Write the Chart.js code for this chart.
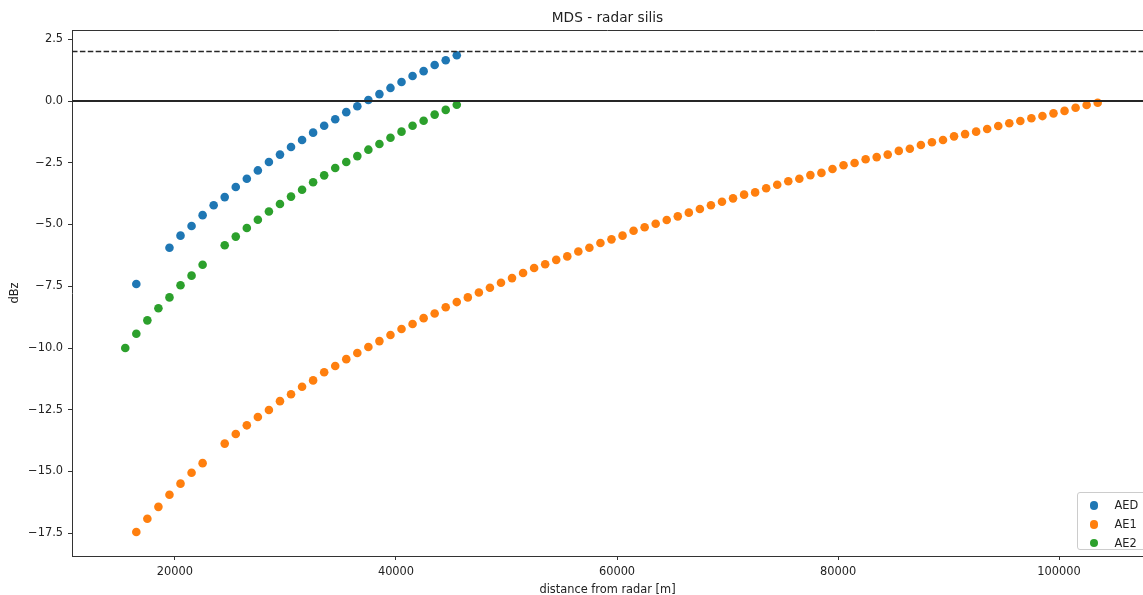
<!DOCTYPE html>
<html>
<head>
<meta charset="utf-8">
<script src="https://cdn.jsdelivr.net/npm/chart.js@4"></script>
<style>
html,body{margin:0;padding:0;background:#fff;overflow:hidden;}
#wrap{position:relative;width:1143px;height:595px;}
#c{display:block;}
#legend{position:absolute;box-sizing:border-box;border:1px solid #cccccc;border-radius:3px;background:rgba(255,255,255,0.8);font-family:'DejaVu Sans',sans-serif;font-size:11.4px;color:#222;padding:3px 0 3px 0;}
#legend .row{position:relative;height:18.7px;line-height:18.7px;white-space:nowrap;}
#legend .dot{position:absolute;left:12.5px;top:5.2px;width:8.4px;height:8.4px;border-radius:50%;}
#legend .lab{position:absolute;left:37px;top:0;}
</style>
</head>
<body>
<div id="wrap">
<canvas id="c" width="1143" height="595"></canvas>
<div id="legend"></div>
</div>
<script>
// ---- data ----
const chartTitle = 'MDS - radar silis';
const xAxisTitle = 'distance from radar [m]';
const yAxisTitle = 'dBz';
const seriesNames = ['AED', 'AE1', 'AE2'];

const aedDistance = [16500, 19500, 20500, 21500, 22500, 23500, 24500, 25500, 26500, 27500,
  28500, 29500, 30500, 31500, 32500, 33500, 34500, 35500, 36500, 37500,
  38500, 39500, 40500, 41500, 42500, 43500, 44500, 45500];
const aedDbz = [-7.41, -5.94, -5.45, -5.06, -4.62, -4.22, -3.89, -3.48, -3.15, -2.81,
  -2.47, -2.17, -1.86, -1.58, -1.28, -1.00, -0.74, -0.45, -0.21, 0.04,
  0.28, 0.53, 0.77, 1.01, 1.21, 1.46, 1.65, 1.85];

const ae1Distance = [16500, 17500, 18500, 19500, 20500, 21500, 22500,
  24500, 25500, 26500, 27500, 28500, 29500, 30500, 31500, 32500, 33500, 34500,
  35500, 36500, 37500, 38500, 39500, 40500, 41500, 42500, 43500, 44500,
  45500, 46500, 47500, 48500, 49500, 50500, 51500, 52500, 53500, 54500,
  55500, 56500, 57500, 58500, 59500, 60500, 61500, 62500, 63500, 64500,
  65500, 66500, 67500, 68500, 69500, 70500, 71500, 72500, 73500, 74500,
  75500, 76500, 77500, 78500, 79500, 80500, 81500, 82500, 83500, 84500,
  85500, 86500, 87500, 88500, 89500, 90500, 91500, 92500, 93500, 94500,
  95500, 96500, 97500, 98500, 99500, 100500, 101500, 102500, 103500];
const ae1Dbz = [-17.45, -16.91, -16.43, -15.94, -15.49, -15.05, -14.66,
  -13.87, -13.48, -13.13, -12.79, -12.51, -12.15, -11.87, -11.57, -11.31, -10.98, -10.73,
  -10.45, -10.20, -9.96, -9.72, -9.47, -9.23, -9.03, -8.79, -8.60, -8.35,
  -8.14, -7.95, -7.75, -7.56, -7.36, -7.17, -6.96, -6.76, -6.61, -6.43,
  -6.29, -6.09, -5.94, -5.75, -5.60, -5.45, -5.25, -5.11, -4.97, -4.82,
  -4.67, -4.52, -4.37, -4.22, -4.08, -3.94, -3.79, -3.70, -3.53, -3.39,
  -3.25, -3.15, -3.00, -2.91, -2.75, -2.60, -2.51, -2.36, -2.27, -2.17,
  -2.02, -1.93, -1.78, -1.67, -1.58, -1.43, -1.34, -1.24, -1.13, -1.01,
  -0.90, -0.81, -0.70, -0.61, -0.50, -0.40, -0.27, -0.16, -0.07];

const ae2Distance = [15500, 16500, 17500, 18500, 19500, 20500, 21500, 22500,
  24500, 25500, 26500, 27500, 28500, 29500, 30500, 31500, 32500, 33500,
  34500, 35500, 36500, 37500, 38500, 39500, 40500, 41500, 42500, 43500,
  44500, 45500];
const ae2Dbz = [-10.00, -9.42, -8.88, -8.39, -7.95, -7.46, -7.07, -6.63,
  -5.84, -5.49, -5.14, -4.81, -4.47, -4.17, -3.87, -3.59, -3.29, -3.01,
  -2.71, -2.47, -2.23, -1.97, -1.74, -1.49, -1.24, -1.00, -0.80, -0.55,
  -0.36, -0.15];

const xTickValues = [20000, 40000, 60000, 80000, 100000];
const xTickLabels = ['20000', '40000', '60000', '80000', '100000'];
const yTickValues = [2.5, 0.0, -2.5, -5.0, -7.5, -10.0, -12.5, -15.0, -17.5];
const yTickLabels = ['2.5', '0.0', '\u22122.5', '\u22125.0', '\u22127.5', '\u221210.0', '\u221212.5', '\u221215.0', '\u221217.5'];

const referenceLevels = [0, 2];   // horizontal reference lines (dBz)

// ---- styles ----
const seriesColors = ['#1f77b4', '#ff7f0e', '#2ca02c'];
const textColor = '#222222';
const axisColor = '#333333';
const FONT = "'DejaVu Sans', sans-serif";

function pts(xs, ys) { return xs.map((x, i) => ({ x: x, y: ys[i] })); }

const seriesData = [pts(aedDistance, aedDbz), pts(ae1Distance, ae1Dbz), pts(ae2Distance, ae2Dbz)];

const refLinePlugin = {
  id: 'refLines',
  afterDatasetsDraw(chart) {
    const ctx = chart.ctx, a = chart.chartArea, y = chart.scales.y;
    ctx.save();
    // top spine
    ctx.strokeStyle = axisColor; ctx.lineWidth = 1; ctx.setLineDash([]);
    ctx.beginPath(); ctx.moveTo(a.left, a.top + 0.5); ctx.lineTo(a.right, a.top + 0.5); ctx.stroke();
    referenceLevels.forEach((lvl, i) => {
      const py = y.getPixelForValue(lvl);
      ctx.beginPath();
      if (i === 0) { ctx.strokeStyle = '#262626'; ctx.lineWidth = 2; ctx.setLineDash([]); }
      else { ctx.strokeStyle = '#262626'; ctx.lineWidth = 1.5; ctx.setLineDash([5.5, 2.4]); }
      ctx.moveTo(a.left, py); ctx.lineTo(a.right, py); ctx.stroke();
    });
    ctx.restore();
  }
};

const legendPlugin = {
  id: 'htmlLegend',
  afterRender(chart) {
    const el = document.getElementById('legend');
    if (!el.dataset.built) {
      el.innerHTML = chart.data.datasets.map((d) =>
        '<div class="row"><span class="dot" style="background:' + d.backgroundColor + '"></span><span class="lab">' + d.label + '</span></div>'
      ).join('');
      el.dataset.built = '1';
    }
    const a = chart.chartArea;
    el.style.left = (a.right - 66.5) + 'px';
    el.style.top = (a.bottom - 63.7) + 'px';
    el.style.width = '80px';
    el.style.height = '58px';
  }
};

new Chart(document.getElementById('c'), {
  type: 'scatter',
  data: {
    datasets: seriesNames.map((name, i) => ({
      label: name,
      data: seriesData[i],
      backgroundColor: seriesColors[i],
      borderColor: seriesColors[i],
      borderWidth: 0,
      pointRadius: 4.3,
      pointHoverRadius: 4.3,
      order: seriesNames.length - i
    }))
  },
  options: {
    responsive: false,
    animation: false,
    devicePixelRatio: 1,
    layout: { padding: 0, autoPadding: false },
    plugins: {
      legend: { display: false },
      tooltip: { enabled: false },
      title: {
        display: true,
        text: chartTitle,
        fullSize: false,
        color: textColor,
        font: { family: FONT, size: 13.7, weight: 'normal' },
        padding: { top: 10, bottom: 3.56 }
      }
    },
    scales: {
      x: {
        type: 'linear',
        min: 10680,
        max: 107600,
        afterFit: (s) => { s.height = 39; },
        afterBuildTicks: (s) => { s.ticks = xTickValues.map(v => ({ value: v })); },
        ticks: {
          color: textColor,
          font: { family: FONT, size: 11.4 },
          padding: 5.5,
          maxRotation: 0,
          autoSkip: false,
          callback: (v, i) => xTickLabels[i]
        },
        grid: { drawOnChartArea: false, drawTicks: true, tickLength: 4, color: axisColor, tickColor: axisColor },
        border: { display: true, color: axisColor, width: 1 },
        title: { display: true, text: xAxisTitle, color: textColor, font: { family: FONT, size: 11.4 }, padding: { top: 0, bottom: -1.5 } }
      },
      y: {
        type: 'linear',
        min: -18.42,
        max: 2.875,
        afterFit: (s) => { s.width = 72; },
        afterBuildTicks: (s) => { s.ticks = yTickValues.map(v => ({ value: v })); },
        ticks: {
          color: textColor,
          font: { family: FONT, size: 11.4 },
          padding: 5,
          autoSkip: false,
          callback: (v, i) => yTickLabels[i]
        },
        grid: { drawOnChartArea: false, drawTicks: true, tickLength: 4, color: axisColor, tickColor: axisColor },
        border: { display: true, color: axisColor, width: 1 },
        title: { display: true, text: yAxisTitle, color: textColor, font: { family: FONT, size: 11.4 }, padding: { top: 8, bottom: 0 } }
      }
    }
  },
  plugins: [refLinePlugin, legendPlugin]
});
</script>
</body>
</html>
